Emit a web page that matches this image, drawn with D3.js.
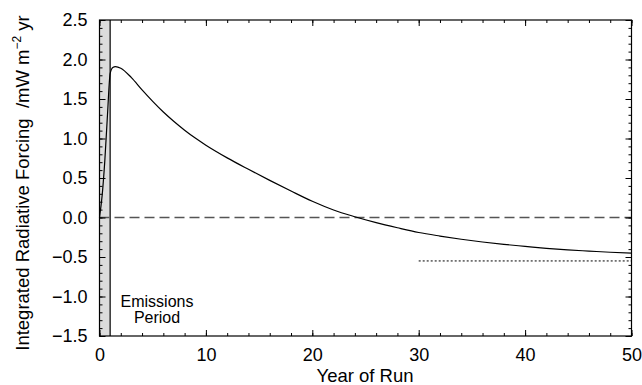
<!DOCTYPE html>
<html lang="en">
    <head>
        <meta charset="utf-8">
        <title>Integrated Radiative Forcing</title>
        <script type="text/javascript" src="https://d3js.org/d3.v7.min.js"></script>
        <style>
            body { margin: 0; background: #fff; }
            svg { display: block; font-family: "Liberation Sans", Arial, sans-serif; }
        </style>
    </head>
    <body>
        <script>
            // data
            const years = [0, 0.25, 0.5, 0.75, 1, 1.25, 1.5, 2, 3, 4, 5, 6, 7, 8, 9, 10, 12, 14, 16, 18, 20, 22, 24, 26, 28, 30, 32, 34, 36, 38, 40, 42, 44, 46, 48, 50];
            const forcing = [0, 0.28, 0.72, 1.3, 1.82, 1.9, 1.91, 1.89, 1.77, 1.615, 1.47, 1.335, 1.215, 1.105, 1.005, 0.915, 0.755, 0.61, 0.47, 0.335, 0.205, 0.095, 0.01, -0.065, -0.13, -0.19, -0.235, -0.275, -0.31, -0.34, -0.365, -0.39, -0.41, -0.425, -0.44, -0.45];
            const emissionsPeriod = [0, 1];
            const asymptote = { from: 30, to: 50, value: -0.55 };
            const xTicks = [0, 10, 20, 30, 40, 50];
            const yTicks = [-1.5, -1.0, -0.5, 0.0, 0.5, 1.0, 1.5, 2.0, 2.5];

            const w = 642;
            const h = 385;
            const pLeft = 99.5, pRight = 631.5, pTop = 20, pBottom = 336;

            const svg = d3.select("body")
                        .append("svg")
                        .attr("width", w)
                        .attr("height", h);

            const xScale = d3.scaleLinear().domain([0, 50]).range([pLeft, pRight]);
            const yScale = d3.scaleLinear().domain([-1.5, 2.5]).range([pBottom, pTop]);

            // shaded emissions period
            svg.append("rect")
               .attr("x", xScale(emissionsPeriod[0]))
               .attr("y", pTop)
               .attr("width", xScale(emissionsPeriod[1]) - xScale(emissionsPeriod[0]))
               .attr("height", pBottom - pTop)
               .attr("fill", "#dcdcdc");

            svg.append("line")
               .attr("x1", xScale(emissionsPeriod[1])).attr("x2", xScale(emissionsPeriod[1]))
               .attr("y1", pTop).attr("y2", pBottom)
               .attr("stroke", "#000").attr("stroke-width", 1.2);

            // zero line
            svg.append("line")
               .attr("x1", pLeft).attr("x2", pRight)
               .attr("y1", yScale(0)).attr("y2", yScale(0))
               .attr("stroke", "#555").attr("stroke-width", 1.3)
               .attr("stroke-dasharray", "10,5");

            // asymptote
            svg.append("line")
               .attr("x1", xScale(asymptote.from)).attr("x2", xScale(asymptote.to))
               .attr("y1", yScale(asymptote.value)).attr("y2", yScale(asymptote.value))
               .attr("stroke", "#000").attr("stroke-width", 1)
               .attr("stroke-dasharray", "2,2");

            // curve
            const line = d3.line()
                .x(function(d, i) { return xScale(years[i]); })
                .y(function(d) { return yScale(d); })
                .curve(d3.curveMonotoneX);

            svg.append("path")
               .datum(forcing)
               .attr("d", line)
               .attr("fill", "none")
               .attr("stroke", "#000")
               .attr("stroke-width", 1.2);

            // axes, ticks inward on all sides
            const xMinor = d3.range(0, 51, 2);
            const yMinor = d3.range(-15, 26, 1).map(function(d) { return d / 10; });
            const fmtY = function(d) { return d3.format(".1f")(d).replace("-", "\u2212"); };

            function addAxis(axis, tx, ty, labels) {
                const g = svg.append("g")
                   .attr("transform", "translate(" + tx + "," + ty + ")")
                   .call(axis);
                g.select(".domain").remove();
                g.selectAll("line").attr("stroke", "#000");
                g.selectAll("text")
                   .attr("font-size", labels ? "18px" : "0px")
                   .attr("fill", "#000");
                return g;
            }

            addAxis(d3.axisBottom(xScale).tickValues(xMinor).tickSize(-3).tickFormat(""), 0, pBottom, false);
            addAxis(d3.axisBottom(xScale).tickValues(xTicks).tickSize(-6).tickPadding(12).tickFormat(d3.format("d")), 0, pBottom, true);
            addAxis(d3.axisTop(xScale).tickValues(xMinor).tickSize(-3).tickFormat(""), 0, pTop, false);
            addAxis(d3.axisTop(xScale).tickValues(xTicks).tickSize(-6).tickFormat(""), 0, pTop, false);
            addAxis(d3.axisLeft(yScale).tickValues(yMinor).tickSize(-3).tickFormat(""), pLeft, 0, false);
            addAxis(d3.axisLeft(yScale).tickValues(yTicks).tickSize(-6).tickPadding(12).tickFormat(fmtY), pLeft, 0, true);
            addAxis(d3.axisRight(yScale).tickValues(yMinor).tickSize(-3).tickFormat(""), pRight, 0, false);
            addAxis(d3.axisRight(yScale).tickValues(yTicks).tickSize(-6).tickFormat(""), pRight, 0, false);

            // frame
            svg.append("rect")
               .attr("x", pLeft).attr("y", pTop)
               .attr("width", pRight - pLeft).attr("height", pBottom - pTop)
               .attr("fill", "none").attr("stroke", "#000").attr("stroke-width", 1.2);

            // labels
            svg.append("text")
               .attr("x", 365).attr("y", 382)
               .attr("text-anchor", "middle")
               .attr("font-size", "18.5px")
               .text("Year of Run");

            const yLab = svg.append("text")
               .attr("transform", "translate(29," + 183 + ") rotate(-90)")
               .attr("text-anchor", "middle")
               .attr("font-size", "18.5px");
            yLab.append("tspan").text("Integrated Radiative Forcing\u00a0\u00a0/mW m");
            yLab.append("tspan").attr("dy", -8).attr("font-size", "12px").text("\u22122");
            yLab.append("tspan").attr("dy", 8).text("\u00a0yr");

            svg.append("text")
               .attr("x", 157).attr("y", 307)
               .attr("text-anchor", "middle")
               .attr("font-size", "16px")
               .text("Emissions");
            svg.append("text")
               .attr("x", 157).attr("y", 323)
               .attr("text-anchor", "middle")
               .attr("font-size", "16px")
               .text("Period");
        </script>
    </body>
</html>
